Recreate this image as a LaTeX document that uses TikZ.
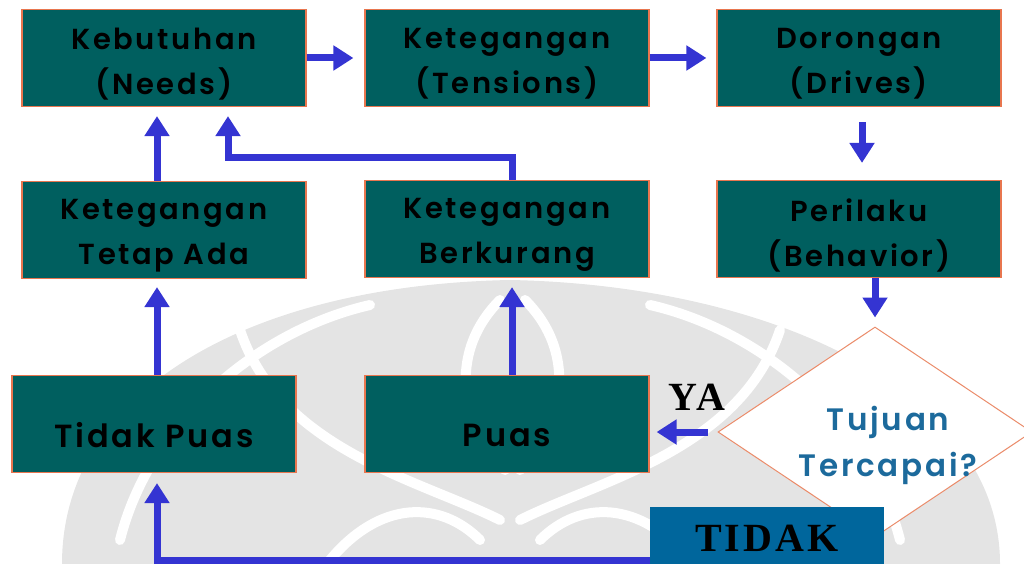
\documentclass[tikz,border=0pt]{standalone}
\usepackage{fontspec}
\setmainfont{Poppins}[LetterSpace=9, BoldFont={* SemiBold}]
\newfontfamily\serifbold{Liberation Serif}[BoldFont={* Bold}, LetterSpace=8]
\usetikzlibrary{arrows.meta,shapes.geometric}
\definecolor{boxfill}{HTML}{005F5F}
\definecolor{boxedge}{HTML}{E8764F}
\definecolor{arrowblue}{HTML}{3434D2}
\definecolor{qblue}{HTML}{1C6A9C}
\definecolor{tidakfill}{HTML}{00669C}
\definecolor{emblemgray}{HTML}{E4E4E4}
\tikzset{
  stepbox/.style={rectangle, draw=boxedge, fill=boxfill, line width=1.2pt,
    minimum width=284pt, minimum height=97pt, inner sep=0pt},
  twoline/.style={align=center, text=black, yshift=-6pt,
    font=\bfseries\fontsize{29}{45}\selectfont},
  oneline/.style={text=black, yshift=-11pt,
    font=\bfseries\fontsize{32}{40}\selectfont},
  arr/.style={draw=arrowblue, line width=7pt,
    -{Triangle[width=24pt,length=20pt]}}
}
\begin{document}
\begin{tikzpicture}[x=1pt,y=-1pt]
\useasboundingbox (0,0) rectangle (1024,564);
% faint emblem in the background
\fill[emblemgray] (62,564) .. controls (62,390) and (250,285) .. (510,280)
  .. controls (770,285) and (1000,390) .. (1000,564) -- cycle;
\begin{scope}[draw=white, line width=10pt, line cap=round]
  \draw (120,540) .. controls (150,420) and (260,330) .. (370,305);
  \draw (900,540) .. controls (870,420) and (760,330) .. (650,305);
  \draw (500,300) .. controls (440,360) and (470,440) .. (505,470);
  \draw (525,300) .. controls (585,360) and (555,440) .. (520,470);
  \draw (240,330) .. controls (280,450) and (420,480) .. (500,520);
  \draw (780,330) .. controls (740,450) and (600,480) .. (520,520);
  \draw (330,560) .. controls (380,500) and (440,500) .. (480,540);
  \draw (690,560) .. controls (640,500) and (580,500) .. (540,540);
\end{scope}

% process boxes
\node[stepbox, label={[twoline]center:{Kebutuhan\\(Needs)}}] (need) at (164,58) {};
\node[stepbox, label={[twoline]center:{Ketegangan\\(Tensions)}}] (tens) at (507,58) {};
\node[stepbox, label={[twoline]center:{Dorongan\\(Drives)}}] (drive) at (859,58) {};
\node[stepbox, label={[twoline]center:{Ketegangan\\Tetap Ada}}] (tetap) at (164,230) {};
\node[stepbox, label={[twoline]center:{Ketegangan\\Berkurang}}] (kurang) at (507,229) {};
\node[stepbox, label={[twoline]center:{Perilaku\\(Behavior)}}] (beh) at (859,229) {};
\node[stepbox, label={[oneline]center:{Tidak Puas}}] (tidak) at (154,424) {};
\node[stepbox, label={[oneline]center:{Puas}}] (puas) at (507,424) {};

% decision
\node[diamond, draw=boxedge!85, line width=1pt, fill=white, aspect=1.5,
  minimum width=314pt, minimum height=210pt, inner sep=0pt,
  label={[twoline, text=qblue, yshift=-7pt, xshift=13pt,
    font=\bfseries\fontsize{31}{46}\selectfont]center:{Tujuan\\Tercapai?}}]
  (goal) at (875,432) {};

\node[rectangle, fill=tidakfill, minimum width=234pt, minimum height=62pt,
  inner sep=0pt, font=\serifbold\bfseries\fontsize{40}{44}\selectfont]
  (no) at (767,538) {TIDAK};
\node[font=\serifbold\bfseries\fontsize{40}{42}\selectfont] (yes) at (697,397) {YA};

% connectors
\draw[arr, shorten >=11pt] (need) -- (tens);
\draw[arr, shorten >=10pt] (tens) -- (drive);
\draw[arr, shorten <=15pt, shorten >=17pt] ([xshift=3pt]drive.south) -- ([xshift=3pt]beh.north);
\draw[arr, shorten >=9pt] ([xshift=16pt]beh.south) -- (goal.north);
\draw[arr, shorten >=9pt] ([xshift=-7pt]tetap.north) -- ([xshift=-7pt]need.south);
\draw[arr, shorten >=9pt] ([xshift=5pt]kurang.north) |- ++(0,-22) -| ([xshift=64pt]need.south);
\draw[arr, shorten >=8pt] ([xshift=3pt]tidak.north) -- ([xshift=-7pt]tetap.south);
\draw[arr, shorten >=9pt] ([xshift=5pt]puas.north) -- ([xshift=5pt]kurang.south);
\draw[arr, shorten <=10pt, shorten >=7pt] (goal.west) -- (puas.east |- goal.west);
\draw[arr, shorten >=10pt] ([yshift=-22pt]no.west) -| ([xshift=3pt]tidak.south);
\end{tikzpicture}
\end{document}
